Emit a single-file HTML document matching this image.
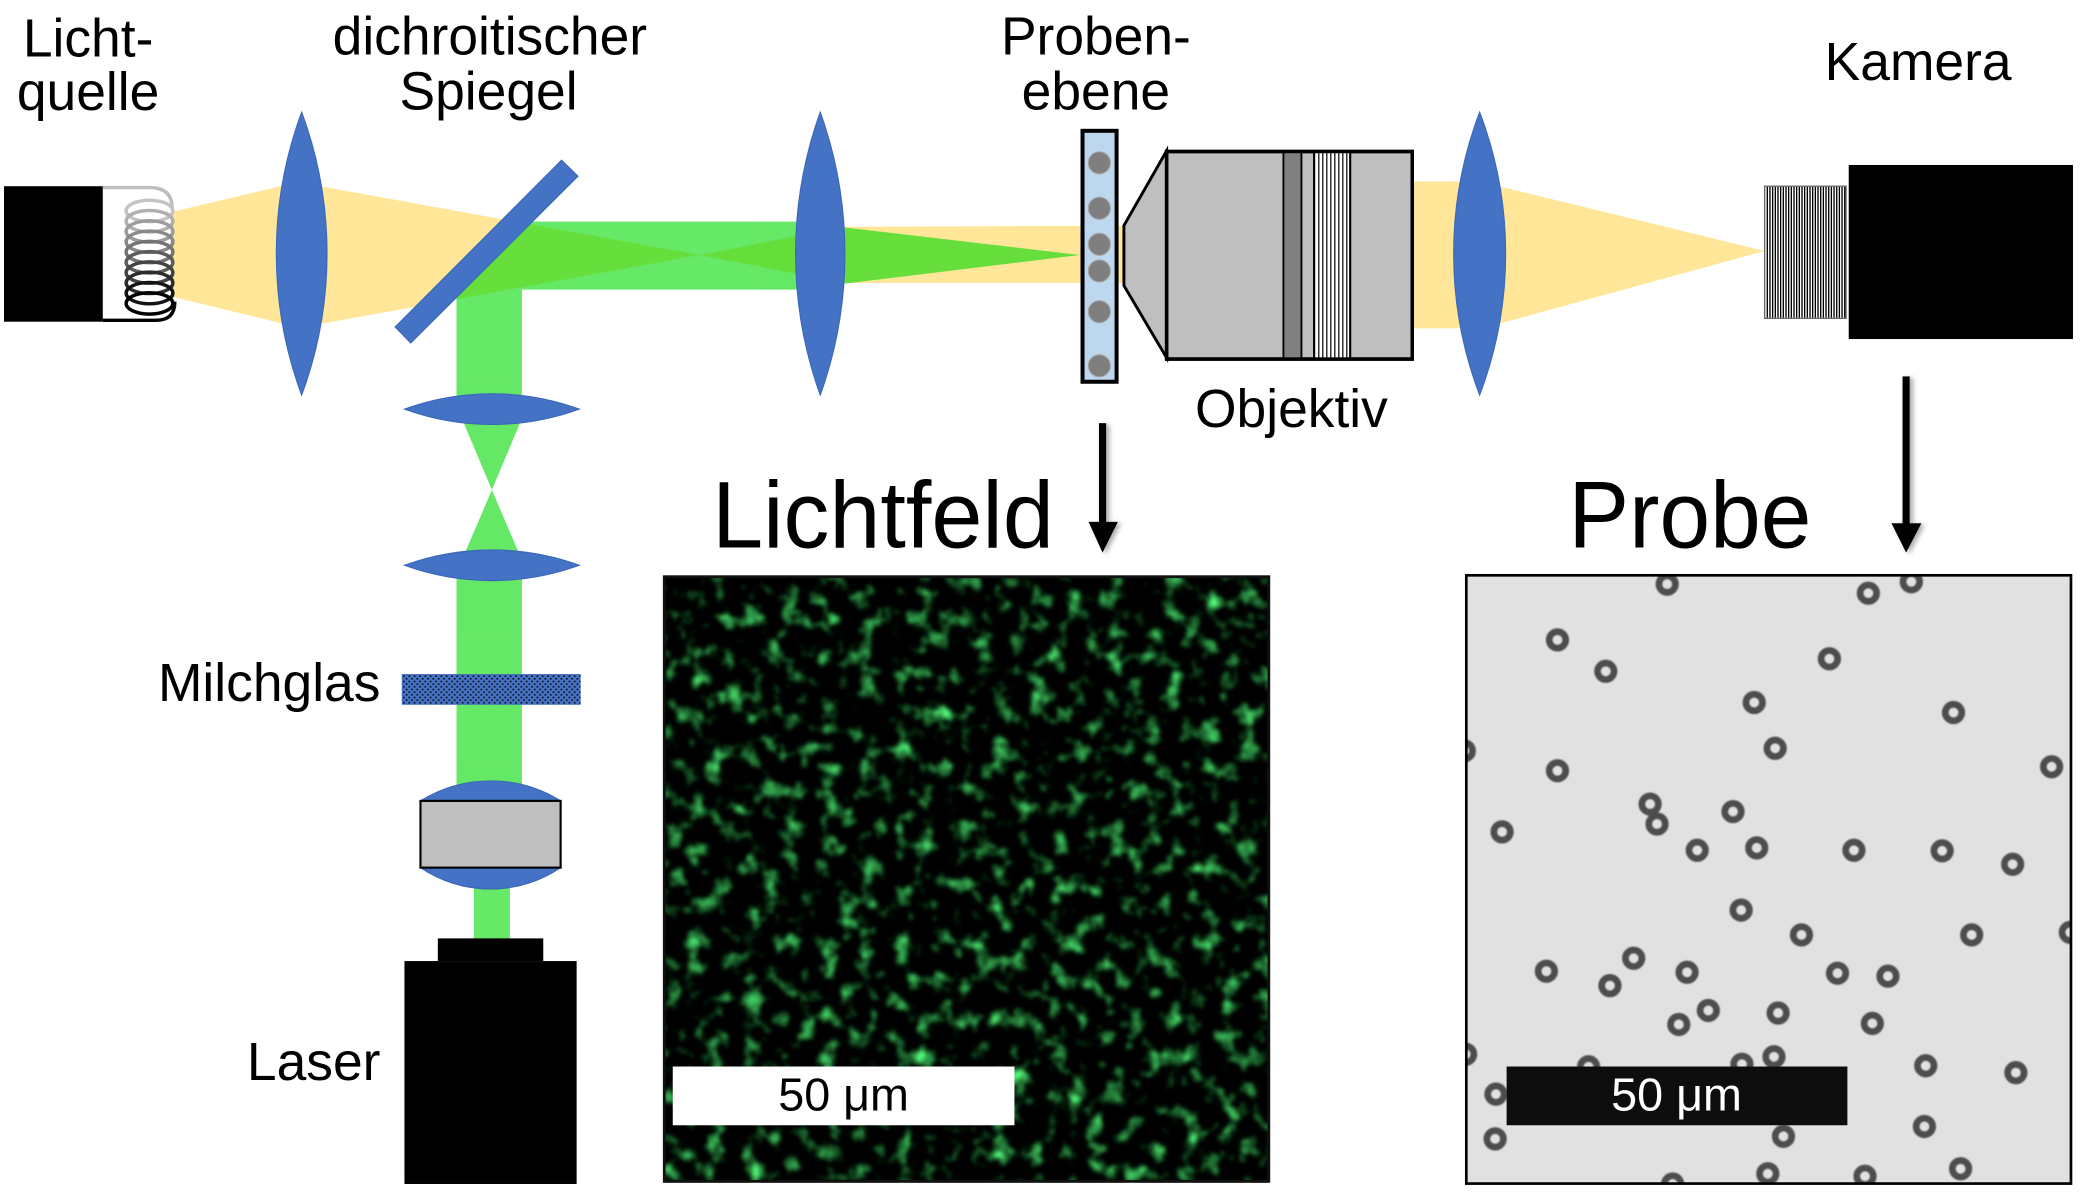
<!DOCTYPE html>
<html><head><meta charset="utf-8"><style>html,body{margin:0;padding:0;background:#fff}svg{display:block}</style></head>
<body>
<svg width="2093" height="1200" viewBox="0 0 1568 899" preserveAspectRatio="none" xmlns="http://www.w3.org/2000/svg" font-family="'Liberation Sans', Arial, sans-serif">
<defs>
<pattern id="mg" width="4" height="4" patternUnits="userSpaceOnUse">
<rect width="4" height="4" fill="#4472C4"/>
<rect x="0" y="0" width="1.2" height="1.1" fill="#000"/>
<rect x="2" y="2" width="1.2" height="1.1" fill="#000"/>
</pattern>
<filter id="speck" x="497" y="432" width="454" height="454" filterUnits="userSpaceOnUse" color-interpolation-filters="sRGB">
<feTurbulence type="fractalNoise" baseFrequency="0.07" numOctaves="3" seed="3"/>
<feColorMatrix type="matrix" values="0.95 0 0 0 -0.52  2.7 0 0 0 -1.40  1.35 0 0 0 -0.72  0 0 0 0 1"/>
<feGaussianBlur stdDeviation="1.3"/>
</filter>
<filter id="bl" x="-20%" y="-20%" width="140%" height="140%"><feGaussianBlur stdDeviation="0.6"/></filter>
<filter id="sh" x="-100%" y="-10%" width="300%" height="120%"><feDropShadow dx="2.5" dy="1" stdDeviation="1.8" flood-color="#777" flood-opacity="0.6"/></filter>
<clipPath id="pc"><rect x="1098.5" y="431" width="453" height="455.7"/></clipPath>
</defs>

<!-- labels -->
<g font-size="40" fill="#000" text-anchor="middle">
<text x="66" y="42.5">Licht-</text>
<text x="66" y="82.5">quelle</text>
<text x="367" y="41">dichroitischer</text>
<text x="366" y="82">Spiegel</text>
<text x="821" y="41">Proben-</text>
<text x="821" y="82">ebene</text>
<text x="1437" y="60">Kamera</text>
<text x="967.5" y="320">Objektiv</text>
</g>
<text x="285" y="525" font-size="40" text-anchor="end">Milchglas</text>
<text x="285" y="809" font-size="40" text-anchor="end">Laser</text>
<text x="533.5" y="410" font-size="71" textLength="256" lengthAdjust="spacingAndGlyphs">Lichtfeld</text>
<text x="1175" y="410" font-size="71" textLength="182" lengthAdjust="spacingAndGlyphs">Probe</text>

<!-- yellow beams -->
<g fill="#FFE699">
<polygon points="128,159 210,139.5 242.5,140 524,191 242.5,242.3 210,242 128,222"/>
<polygon points="524,191 606,175 614,170 845,169 845,212 614,212 606,207"/>
<polygon points="1050,136 1108,136 1125,140 1322,188 1125,242 1108,246 1050,246"/>
</g>

<!-- green beams -->
<g opacity="0.6" fill="rgb(0,218,0)">
<polygon points="394,166 606,166 606,217 391,217 391,310 342,310 342,222"/>
<polygon points="612,168 809,191 612,215"/>
<polygon points="344.5,310 392.5,310 368.5,367"/>
<polygon points="368.5,367 392,422 345,422"/>
<rect x="342" y="422" width="49" height="170"/>
<rect x="355" y="650" width="27" height="54"/>
</g>

<!-- light source -->
<rect x="3" y="139.5" width="74" height="101.5" fill="#000"/>
<path d="M77,140.5 H112 Q129,140.5 129,156" fill="none" stroke="#bdbdbd" stroke-width="2.5"/>
<path d="M77,240 H117 Q131,240 131,226" fill="none" stroke="#000" stroke-width="2.5"/>
<g fill="none" stroke-width="2.6">
<ellipse cx="112" cy="158" rx="17.5" ry="8" stroke="#c4c4c4"/>
<ellipse cx="112" cy="165.7" rx="17.5" ry="8" stroke="#b0b0b0"/>
<ellipse cx="112" cy="173.4" rx="17.5" ry="8" stroke="#9c9c9c"/>
<ellipse cx="112" cy="181.1" rx="17.5" ry="8" stroke="#888"/>
<ellipse cx="112" cy="188.8" rx="17.5" ry="8" stroke="#747474"/>
<ellipse cx="112" cy="196.5" rx="17.5" ry="8" stroke="#5c5c5c"/>
<ellipse cx="112" cy="204.2" rx="17.5" ry="8" stroke="#444"/>
<ellipse cx="112" cy="211.9" rx="17.5" ry="8" stroke="#2c2c2c"/>
<ellipse cx="112" cy="219.6" rx="17.5" ry="8" stroke="#141414"/>
<ellipse cx="112" cy="227.3" rx="17.5" ry="8" stroke="#000"/>
</g>

<!-- lenses and mirror -->
<g fill="#4472C4" stroke="#3B66B8" stroke-width="0.8">
<path d="M226,84 A305,305 0 0 1 226,296 A305,305 0 0 1 226,84Z"/>
<path d="M614.5,84 A313,313 0 0 1 614.5,296 A313,313 0 0 1 614.5,84Z"/>
<path d="M1108.5,84 A298,298 0 0 1 1108.5,296 A298,298 0 0 1 1108.5,84Z"/>
<path d="M303,306.5 A192,192 0 0 1 434,306.5 A192,192 0 0 1 303,306.5Z"/>
<path d="M303,423.5 A192,192 0 0 1 434,423.5 A192,192 0 0 1 303,423.5Z"/>
<path d="M315,600 A99.4,99.4 0 0 1 420,600 Z"/>
<path d="M315,650 A94,94 0 0 0 420,650 Z"/>
<polygon points="420.7,120 433,132 307.7,257 296,245"/>
</g>

<!-- Milchglas -->
<rect x="301" y="505" width="134" height="23" fill="url(#mg)"/>

<!-- collimator box & laser -->
<rect x="315" y="600" width="105" height="50" fill="#BFBFBF" stroke="#000" stroke-width="1.6"/>
<rect x="328" y="703" width="79" height="17" fill="#000"/>
<rect x="303" y="720" width="129" height="167" fill="#000"/>

<!-- sample plane -->
<rect x="811" y="98" width="25.5" height="188" fill="#BDD7EE" stroke="#000" stroke-width="3"/>
<g fill="#7F7F7F" stroke="#a8a8a8" stroke-width="0.8">
<circle cx="823.6" cy="122" r="8.3"/>
<circle cx="823.6" cy="156" r="8.3"/>
<circle cx="823.6" cy="183" r="8.3"/>
<circle cx="823.6" cy="203" r="8.3"/>
<circle cx="823.6" cy="233.5" r="8.3"/>
<circle cx="823.6" cy="274" r="8.3"/>
</g>

<!-- objective -->
<polygon points="842,169 874,113 874,268 842,214" fill="#BFBFBF" stroke="#000" stroke-width="2.2" stroke-linejoin="miter"/>
<rect x="874" y="113.5" width="184" height="155.5" fill="#BFBFBF" stroke="#000" stroke-width="2.6"/>
<rect x="961.5" y="113.5" width="13.5" height="155.5" fill="#808080" stroke="#000" stroke-width="1.4"/>
<rect x="984.5" y="113.5" width="27" height="155.5" fill="#fff" stroke="#000" stroke-width="1.6"/>
<g stroke="#000" stroke-width="0.9">
<line x1="988" y1="113.5" x2="988" y2="269"/>
<line x1="991" y1="113.5" x2="991" y2="269"/>
<line x1="994" y1="113.5" x2="994" y2="269"/>
<line x1="997" y1="113.5" x2="997" y2="269"/>
<line x1="1000" y1="113.5" x2="1000" y2="269"/>
<line x1="1003" y1="113.5" x2="1003" y2="269"/>
<line x1="1006" y1="113.5" x2="1006" y2="269"/>
<line x1="1009" y1="113.5" x2="1009" y2="269"/>
</g>
<rect x="874" y="113.5" width="184" height="155.5" fill="none" stroke="#000" stroke-width="2.6"/>

<!-- camera -->
<rect x="1322" y="139.5" width="61" height="99" fill="#fff" stroke="#666" stroke-width="1"/>
<g stroke="#000" stroke-width="1">
<line x1="1324" y1="140" x2="1324" y2="238"/><line x1="1326" y1="140" x2="1326" y2="238"/>
<line x1="1328" y1="140" x2="1328" y2="238"/><line x1="1330" y1="140" x2="1330" y2="238"/>
<line x1="1332" y1="140" x2="1332" y2="238"/><line x1="1334" y1="140" x2="1334" y2="238"/>
<line x1="1336" y1="140" x2="1336" y2="238"/><line x1="1338" y1="140" x2="1338" y2="238"/>
<line x1="1340" y1="140" x2="1340" y2="238"/><line x1="1342" y1="140" x2="1342" y2="238"/>
<line x1="1344" y1="140" x2="1344" y2="238"/><line x1="1346" y1="140" x2="1346" y2="238"/>
<line x1="1348" y1="140" x2="1348" y2="238"/><line x1="1350" y1="140" x2="1350" y2="238"/>
<line x1="1352" y1="140" x2="1352" y2="238"/><line x1="1354" y1="140" x2="1354" y2="238"/>
<line x1="1356" y1="140" x2="1356" y2="238"/><line x1="1358" y1="140" x2="1358" y2="238"/>
<line x1="1360" y1="140" x2="1360" y2="238"/><line x1="1362" y1="140" x2="1362" y2="238"/>
<line x1="1364" y1="140" x2="1364" y2="238"/><line x1="1366" y1="140" x2="1366" y2="238"/>
<line x1="1368" y1="140" x2="1368" y2="238"/><line x1="1370" y1="140" x2="1370" y2="238"/>
<line x1="1372" y1="140" x2="1372" y2="238"/><line x1="1374" y1="140" x2="1374" y2="238"/>
<line x1="1376" y1="140" x2="1376" y2="238"/><line x1="1378" y1="140" x2="1378" y2="238"/>
<line x1="1380" y1="140" x2="1380" y2="238"/><line x1="1382" y1="140" x2="1382" y2="238"/>
</g>
<rect x="1385" y="123.6" width="168" height="130.4" fill="#000"/>

<!-- arrows -->
<g fill="#000" filter="url(#sh)">
<rect x="823.3" y="317" width="5.4" height="76"/>
<polygon points="815.5,391 837.5,391 826,414"/>
</g>
<g fill="#000" filter="url(#sh)">
<rect x="1425.3" y="282" width="5.4" height="111"/>
<polygon points="1417,392 1439.5,392 1428,414"/>
</g>

<!-- Lichtfeld image -->
<rect x="497.6" y="432" width="453" height="453" fill="#000"/>
<rect x="497.6" y="432" width="453" height="453" fill="#000" filter="url(#speck)"/>
<rect x="497.6" y="432" width="453" height="453" fill="none" stroke="#111" stroke-width="2"/>
<rect x="504" y="799" width="256" height="44" fill="#fff"/>
<text x="632" y="832" font-size="35" text-anchor="middle" fill="#000">50 μm</text>

<!-- Probe image -->
<rect x="1098.5" y="431" width="453" height="455.7" fill="#E1E1E1"/>
<g clip-path="url(#pc)" fill="none" stroke="#4d4d4d" stroke-width="5" filter="url(#bl)">
<circle cx="1249" cy="437.6" r="6.2"/><circle cx="1399.7" cy="444.4" r="6.2"/><circle cx="1431.9" cy="435.8" r="6.2"/>
<circle cx="1166.8" cy="479.4" r="6.2"/><circle cx="1203" cy="502.9" r="6.2"/><circle cx="1370.5" cy="493.5" r="6.2"/>
<circle cx="1314.2" cy="526.3" r="6.2"/><circle cx="1463.5" cy="533.8" r="6.2"/><circle cx="1329.9" cy="560.6" r="6.2"/>
<circle cx="1166.8" cy="577.4" r="6.2"/><circle cx="1537" cy="574.4" r="6.2"/><circle cx="1097" cy="562.5" r="6.2"/>
<circle cx="1236.2" cy="602.4" r="6.2"/><circle cx="1241.4" cy="617.3" r="6.2"/><circle cx="1298.3" cy="608" r="6.2"/>
<circle cx="1125.3" cy="623.2" r="6.2"/><circle cx="1271.5" cy="637" r="6.2"/><circle cx="1316.1" cy="635.2" r="6.2"/>
<circle cx="1388.9" cy="637" r="6.2"/><circle cx="1455" cy="637.4" r="6.2"/><circle cx="1507.8" cy="647.5" r="6.2"/>
<circle cx="1304.4" cy="681.8" r="6.2"/><circle cx="1349.6" cy="700.4" r="6.2"/><circle cx="1477.1" cy="700.4" r="6.2"/>
<circle cx="1551" cy="698.5" r="6.2"/><circle cx="1223.9" cy="717.9" r="6.2"/><circle cx="1158.5" cy="727.6" r="6.2"/>
<circle cx="1206.1" cy="738.4" r="6.2"/><circle cx="1263.9" cy="728.4" r="6.2"/><circle cx="1376.6" cy="729.1" r="6.2"/>
<circle cx="1414.4" cy="731.3" r="6.2"/><circle cx="1279.8" cy="757" r="6.2"/><circle cx="1257.7" cy="767.5" r="6.2"/>
<circle cx="1332.1" cy="758.9" r="6.2"/><circle cx="1402.7" cy="766.7" r="6.2"/><circle cx="1098" cy="789.8" r="6.2"/>
<circle cx="1329" cy="791.7" r="6.2"/><circle cx="1305" cy="797.3" r="6.2"/><circle cx="1190.1" cy="799.2" r="6.2"/>
<circle cx="1442.7" cy="798.4" r="6.2"/><circle cx="1510.2" cy="803.6" r="6.2"/><circle cx="1120.7" cy="819.7" r="6.2"/>
<circle cx="1120.1" cy="853.2" r="6.2"/><circle cx="1336.1" cy="851.3" r="6.2"/><circle cx="1441.7" cy="843.9" r="6.2"/>
<circle cx="1324.4" cy="879.3" r="6.2"/><circle cx="1397.2" cy="881.2" r="6.2"/><circle cx="1468.8" cy="875.6" r="6.2"/>
<circle cx="1253.1" cy="887" r="6.2"/>
</g>
<rect x="1098.5" y="431" width="453" height="455.7" fill="none" stroke="#000" stroke-width="2"/>
<rect x="1128.7" y="799" width="255.3" height="44" fill="#0d0d0d"/>
<text x="1256" y="832" font-size="35" text-anchor="middle" fill="#fff">50 μm</text>
</svg>
</body></html>
